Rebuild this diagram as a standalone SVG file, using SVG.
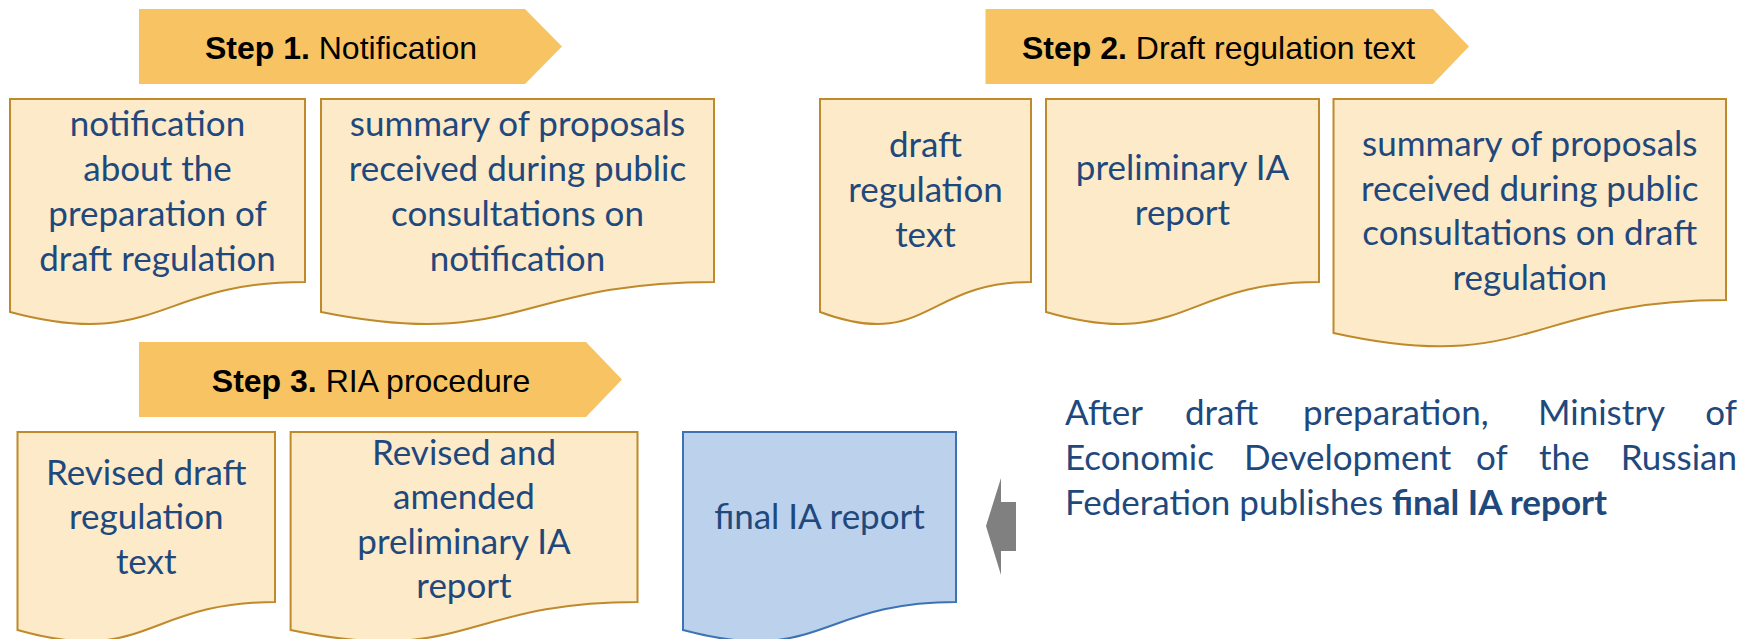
<svg xmlns="http://www.w3.org/2000/svg" width="1754" height="639" viewBox="0 0 1754 639">
<style>
.banner{fill:#F8C463;}
.btxt{font-family:"Liberation Sans",Arial,sans-serif;font-size:32px;fill:#000;text-anchor:middle;}
.btxt tspan.b{font-weight:bold;}
.doc{fill:#FDEAC8;stroke:#BF8A2B;stroke-width:2;}
.docb{fill:#BCD1EC;stroke:#3D72B5;stroke-width:2;}
.t{font-family:Lato,"Open Sans",sans-serif;font-size:35px;fill:#1F497D;text-anchor:middle;}
.p{font-family:Lato,"Open Sans",sans-serif;font-size:35px;fill:#1F497D;}
.arrow{fill:#808080;}
</style>
<rect width="1754" height="639" fill="#FFFFFF"/>

<g id="step1">
<polygon class="banner" points="139,9 525,9 562,46.5 525,84 139,84"/>
<text class="btxt" x="341" y="59"><tspan class="b">Step 1.</tspan> Notification</text>
</g>
<g id="step2">
<polygon class="banner" points="985.5,9 1433,9 1469,46.5 1433,84 985.5,84"/>
<text class="btxt" x="1218.5" y="59"><tspan class="b">Step 2.</tspan> Draft regulation text</text>
</g>
<g id="step3">
<polygon class="banner" points="139,342 586,342 622,379.5 586,417 139,417"/>
<text class="btxt" x="371" y="392"><tspan class="b">Step 3.</tspan> RIA procedure</text>
</g>

<g id="doc-notification">
<path class="doc" d="M10,99 H305 V281.9 C157.5,281.9 157.5,351.5 10,312 Z"/>
<text class="t"><tspan x="157.5" y="136">notification</tspan><tspan x="157.5" y="181">about the</tspan><tspan x="157.5" y="226">preparation of</tspan><tspan x="157.5" y="271">draft regulation</tspan></text>
</g>
<g id="doc-summary1">
<path class="doc" d="M321,99 H714 V281.9 C517.5,281.9 517.5,351.5 321,312 Z"/>
<text class="t"><tspan x="517.5" y="136">summary of proposals</tspan><tspan x="517.5" y="181">received during public</tspan><tspan x="517.5" y="226">consultations on</tspan><tspan x="517.5" y="271">notification</tspan></text>
</g>

<g id="doc-draft">
<path class="doc" d="M820,99 H1031 V281.9 C925.5,281.9 925.5,351.5 820,312 Z"/>
<text class="t"><tspan x="925.5" y="157">draft</tspan><tspan x="925.5" y="202">regulation</tspan><tspan x="925.5" y="247">text</tspan></text>
</g>
<g id="doc-prelim">
<path class="doc" d="M1046,99 H1319 V281.9 C1182.5,281.9 1182.5,351.5 1046,312 Z"/>
<text class="t"><tspan x="1182.5" y="180">preliminary IA</tspan><tspan x="1182.5" y="225">report</tspan></text>
</g>
<g id="doc-summary2">
<path class="doc" d="M1333.5,99 H1726 V300 C1529.75,300 1529.75,376.5 1333.5,333 Z"/>
<text class="t"><tspan x="1529.75" y="156">summary of proposals</tspan><tspan x="1529.75" y="200.5">received during public</tspan><tspan x="1529.75" y="245">consultations on draft</tspan><tspan x="1529.75" y="289.5">regulation</tspan></text>
</g>

<g id="doc-revised">
<path class="doc" d="M17.5,432 H275 V602 C146.25,602 146.25,666.8 17.5,630 Z"/>
<text class="t"><tspan x="146.25" y="485">Revised draft</tspan><tspan x="146.25" y="529">regulation</tspan><tspan x="146.25" y="574">text</tspan></text>
</g>
<g id="doc-amended">
<path class="doc" d="M290.6,432 H637.5 V602 C464,602 464,666.8 290.6,630 Z"/>
<text class="t"><tspan x="464" y="465">Revised and</tspan><tspan x="464" y="509">amended</tspan><tspan x="464" y="554">preliminary IA</tspan><tspan x="464" y="598">report</tspan></text>
</g>
<g id="doc-final">
<path class="docb" d="M683,432 H956 V602 C819.5,602 819.5,666.8 683,630 Z"/>
<text class="t" x="819.5" y="529">final IA report</text>
</g>

<g id="connectors">
<polygon class="arrow" points="1016,502 1001,502 1001,478 986,526 1001,575 1001,551 1016,551"/>
</g>

<g id="note">
<text class="p" y="425"><tspan x="1065">After</tspan><tspan x="1185">draft</tspan><tspan x="1303">preparation,</tspan><tspan x="1538">Ministry</tspan><tspan x="1737" text-anchor="end">of</tspan></text>
<text class="p" y="470"><tspan x="1065">Economic</tspan><tspan x="1244">Development</tspan><tspan x="1476">of</tspan><tspan x="1539">the</tspan><tspan x="1737" text-anchor="end">Russian</tspan></text>
<text class="p" x="1065" y="515">Federation publishes <tspan font-weight="bold">final IA report</tspan></text>
</g>
</svg>
